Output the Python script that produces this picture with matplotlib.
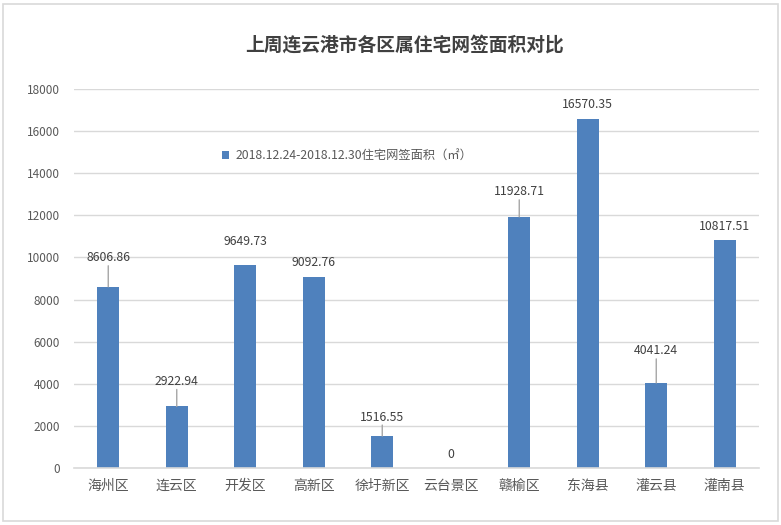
import matplotlib.pyplot as plt
from matplotlib.patches import Rectangle

plt.rcParams['font.family'] = ['Noto Sans CJK SC', 'DejaVu Sans']

# Datos
distritos = ['海州区', '连云区', '开发区', '高新区', '徐圩新区', '云台景区', '赣榆区', '东海县', '灌云县', '灌南县']
area = [8606.86, 2922.94, 9649.73, 9092.76, 1516.55, 0, 11928.71, 16570.35, 4041.24, 10817.51]
titulo = '上周连云港市各区属住宅网签面积对比'
serie = '2018.12.24-2018.12.30住宅网签面积（㎡）'
y_ticks = [0, 2000, 4000, 6000, 8000, 10000, 12000, 14000, 16000, 18000]

# Separación de etiquetas (px) y si llevan línea guía, como en Excel
sep_px = [29, 25, 23, 14, 19, 13, 25, 15, 32, 14]
guia = [True, True, False, False, True, False, True, False, True, False]

color_barra = '#4F81BD'
gris_txt = '#595959'

fig = plt.figure(figsize=(7.81, 5.25), dpi=100)
fig.patch.set_facecolor('white')

# Marco del gráfico
fig.patches.append(Rectangle((3 / 781, 4 / 525), 775 / 781, 517 / 525, transform=fig.transFigure,
                             fill=False, edgecolor='#D9D9D9', linewidth=1.2))

ax = fig.add_axes([74 / 781, 1 - 468 / 525, 685 / 781, 379 / 525])
x = range(len(distritos))
ax.bar(x, area, width=0.32, color=color_barra, label=serie, zorder=3)

ax.set_xlim(-0.5, len(distritos) - 0.5)
ax.set_ylim(0, 18000)
ax.set_yticks(y_ticks)
ax.set_yticklabels([str(v) for v in y_ticks], fontsize=8.5, color=gris_txt)
ax.set_xticks(list(x))
ax.set_xticklabels(distritos, fontsize=10, color=gris_txt)
ax.tick_params(axis='both', length=0)
ax.tick_params(axis='y', pad=10)
ax.tick_params(axis='x', pad=8)
ax.grid(axis='y', color='#D9D9D9', linewidth=1, zorder=0)

for lado in ['top', 'right', 'left']:
    ax.spines[lado].set_visible(False)
ax.spines['bottom'].set_color('#D9D9D9')
ax.spines['bottom'].set_linewidth(1.2)
ax.spines['bottom'].set_zorder(4)

# Etiquetas de datos
for i, (val, sep, g) in enumerate(zip(area, sep_px, guia)):
    txt = f'{val:.2f}' if val != 0 else '0'
    ax.annotate(txt, xy=(i, val), xytext=(0, sep * 0.72), textcoords='offset points',
                ha='center', va='center', fontsize=8.8, color='#404040', zorder=5)
    if g:
        ax.annotate('', xy=(i, val), xytext=(0, (sep - 8) * 0.72), textcoords='offset points',
                    arrowprops=dict(arrowstyle='-', color='#A6A6A6', lw=1, shrinkA=0, shrinkB=0))

leg = ax.legend(loc='upper left', bbox_to_anchor=(0.2, 0.87), frameon=False,
                fontsize=8.8, handlelength=0.6, handleheight=0.6, handletextpad=0.5)
for t in leg.get_texts():
    t.set_color(gris_txt)

fig.text(405 / 781, 1 - 45 / 525, titulo, ha='center', va='center', fontsize=13.5,
         fontweight='bold', color='#404040')

fig.savefig('out.png', dpi=100, facecolor='white')
